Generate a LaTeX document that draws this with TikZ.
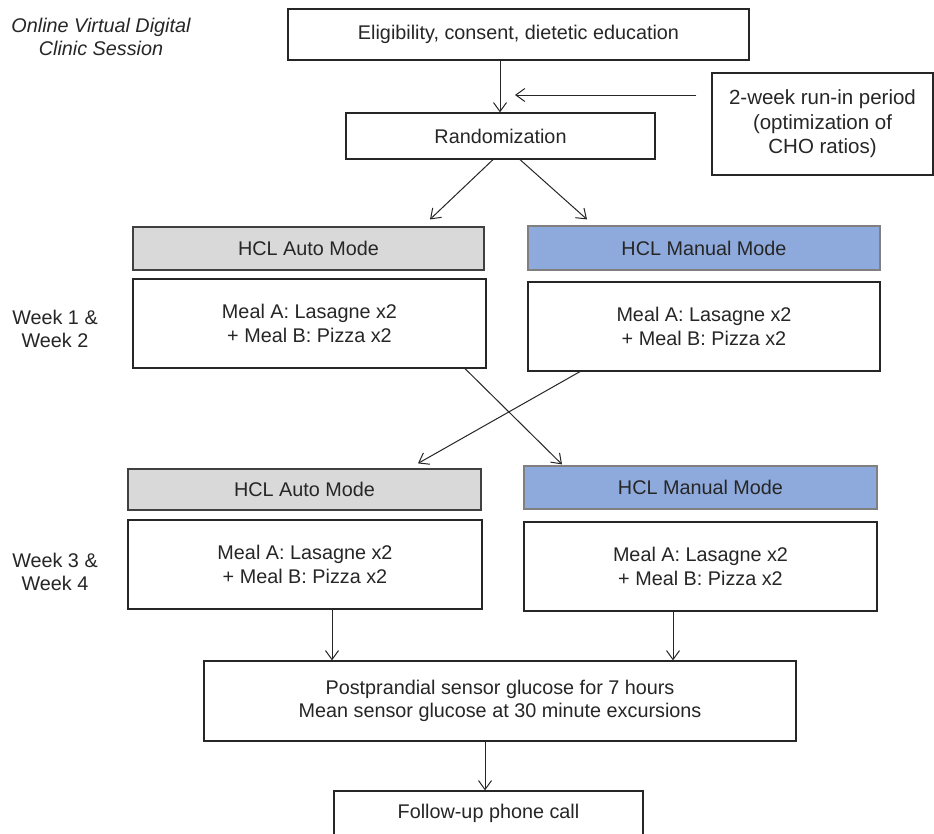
\documentclass[tikz,border=0pt]{standalone}
\usepackage{fontspec}
\setmainfont{Liberation Sans}
\usetikzlibrary{arrows.meta}
\definecolor{txt}{HTML}{262626}
\definecolor{grayfill}{HTML}{D9D9D9}
\definecolor{grayline}{HTML}{404040}
\definecolor{bluefill}{HTML}{8EA9DB}
\definecolor{blueline}{HTML}{808080}
\tikzset{
  box/.style={draw=black!85, line width=1.2pt, fill=white, inner sep=0pt, align=center, text=txt,
    font=\fontsize{19.8}{23.5}\selectfont},
  autobox/.style={box, fill=grayfill, draw=grayline},
  manbox/.style={box, fill=bluefill, draw=blueline},
  lbl/.style={inner sep=0pt, text=txt, font=\fontsize{19.8}{23.5}\selectfont},
  arr/.style={draw=black!85, line width=1pt, -{Straight Barb[length=9pt,width=13pt,line width=1pt]}}
}
\begin{document}
\begin{tikzpicture}[x=1pt,y=-1pt]
\useasboundingbox (0,0) rectangle (934,833);
\clip (0,0) rectangle (934,833);
\fill[white] (0,0) rectangle (934,833);

\node[lbl, align=center, font=\fontsize{19.8}{23.5}\selectfont\itshape] (online) at (101,37) {Online Virtual Digital\\Clinic Session};

\node[box, minimum width=461pt, minimum height=51pt] (top) at (518.5,34.5) {Eligibility, consent, dietetic education};
\node[box, minimum width=309pt, minimum height=46pt] (rand) at (500.5,136) {Randomization};
\node[box, minimum width=221pt, minimum height=102pt, font=\fontsize{20.5}{24.5}\selectfont] (runin) at (822.5,124) {2-week run-in period\\(optimization of\\CHO ratios)};

\node[autobox, minimum width=351pt, minimum height=43pt] (auto1) at (308.5,248.5) {HCL Auto Mode};
\node[manbox, minimum width=352pt, minimum height=44pt] (man1) at (704,248) {HCL Manual Mode};
\node[box, minimum width=353pt, minimum height=89pt] (meal1l) at (309.5,323.5) {Meal A: Lasagne x2\\+ Meal B: Pizza x2};
\node[box, minimum width=352pt, minimum height=89pt] (meal1r) at (704,326.5) {Meal A: Lasagne x2\\+ Meal B: Pizza x2};
\node[lbl, align=center] (wk1) at (55,329) {Week 1 \&\\Week 2};

\node[autobox, minimum width=353pt, minimum height=41pt] (auto2) at (304.5,489.5) {HCL Auto Mode};
\node[manbox, minimum width=353pt, minimum height=43pt] (man2) at (700.5,487.5) {HCL Manual Mode};
\node[box, minimum width=354pt, minimum height=89pt] (meal2l) at (305,564.5) {Meal A: Lasagne x2\\+ Meal B: Pizza x2};
\node[box, minimum width=353pt, minimum height=89pt] (meal2r) at (700.5,566.5) {Meal A: Lasagne x2\\+ Meal B: Pizza x2};
\node[lbl, align=center] (wk3) at (55,572) {Week 3 \&\\Week 4};

\node[box, minimum width=592pt, minimum height=80pt] (post) at (500,701) {Postprandial sensor glucose for 7 hours\\Mean sensor glucose at 30 minute excursions};
\node[box, minimum width=309pt, minimum height=44pt] (follow) at (488.5,813) {Follow-up phone call};

% connectors
\draw[arr] ([xshift=-18.5pt]top.south) coordinate (a0) -- (a0 |- rand.north);
\coordinate (runtip) at (515,95);
\draw[arr] ([xshift=-15pt,yshift=29pt]runin.west) -- (runtip);
\draw[arr] ([xshift=-7.5pt]rand.south) -- ([xshift=121.5pt,yshift=7pt]auto1.north);
\draw[arr] ([xshift=19.5pt]rand.south) -- ([xshift=-117pt,yshift=6pt]man1.north);
\draw[arr] ([xshift=155.5pt]meal1l.south) -- ([xshift=-138.5pt,yshift=1pt]man2.north);
\draw[arr] ([xshift=-124pt]meal1r.south) -- ([xshift=113.5pt,yshift=5pt]auto2.north);
\draw[arr] ([xshift=27pt]meal2l.south) coordinate (d1) -- (d1 |- post.north);
\draw[arr] ([xshift=-27.5pt]meal2r.south) coordinate (d2) -- (d2 |- post.north);
\draw[arr] ([xshift=-15pt]post.south) coordinate (d3) -- (d3 |- follow.north);
\end{tikzpicture}
\end{document}
